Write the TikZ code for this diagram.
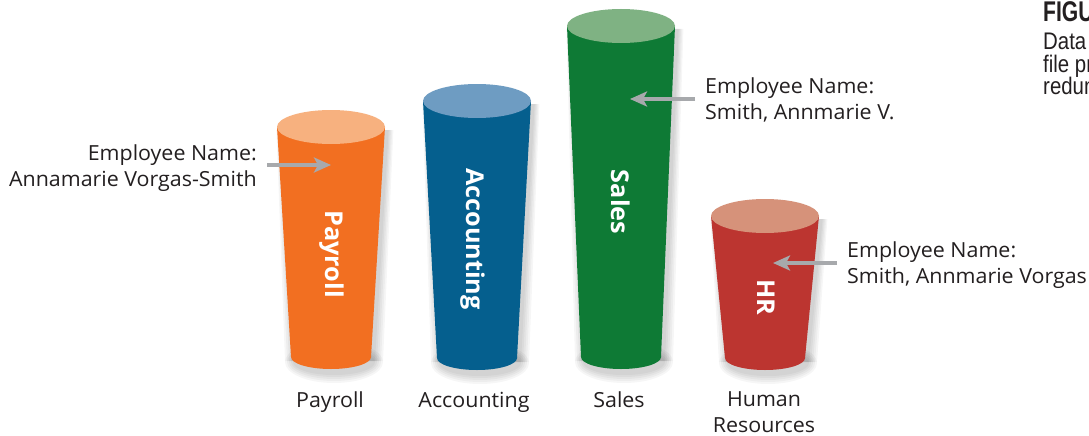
\documentclass[tikz,border=0pt]{standalone}
\usepackage{fontspec}
\setmainfont[FakeStretch=1.03]{Open Sans}
\newfontfamily\capfont[FakeStretch=0.85]{Liberation Sans}
\newfontfamily\capboldfont[FakeStretch=0.74]{Liberation Sans Bold}
\usetikzlibrary{arrows.meta}

\definecolor{txt}{HTML}{231F20}
\definecolor{arrowgray}{HTML}{A7A9AC}
\definecolor{payBody}{HTML}{F26F21}
\definecolor{payTop}{HTML}{F7B17F}
\definecolor{accBody}{HTML}{055F8E}
\definecolor{accTop}{HTML}{6E9CC2}
\definecolor{salBody}{HTML}{0E7A35}
\definecolor{salTop}{HTML}{7FB283}
\definecolor{hrBody}{HTML}{BC3530}
\definecolor{hrTop}{HTML}{D6927A}

\tikzset{
  label/.style={font=\fontsize{20.8}{25.5}\selectfont, text=txt, inner sep=0pt},
  binlabel/.style={font=\fontsize{24.5}{28}\selectfont\bfseries, text=white,
    inner sep=0pt, rotate=-90},
  pointer/.style={draw=arrowgray, line width=3.4pt,
    -{Stealth[length=17pt,width=15pt,inset=4pt]}},
  caphead/.style={anchor=base west, inner sep=0pt, text=txt,
    font=\capboldfont\fontsize{28.5}{30}\selectfont},
  capline/.style={anchor=base west, inner sep=0pt, text=txt,
    font=\capfont\fontsize{24}{26}\selectfont},
}

% cylinder: #1 centre x, #2 top y, #3 bottom y, #4 body colour, #5 lid colour
\newcommand\bincyl[5]{%
  % soft shadow below and to the right
  \foreach \g in {9,7,5,3,1}{
    \fill[black, opacity=0.035]
      (#1-54+3-\g*0.4,#2+3) -- (#1-40+3-\g,#3+4) -- (#1+40+3+\g,#3+4)
      -- (#1+54+3+\g*0.6,#2+3) -- cycle;
    \fill[black, opacity=0.035]
      (#1+3,#3+5) ellipse[x radius=40pt+\g pt, y radius=12pt+\g pt];
  }
  \fill[#4] (#1-54,#2) -- (#1-40,#3) -- (#1+40,#3) -- (#1+54,#2) -- cycle;
  \fill[#4] (#1,#3) ellipse[x radius=40pt, y radius=12pt];
  \fill[#5] (#1,#2) ellipse[x radius=54pt, y radius=17pt];
}

\begin{document}
\begin{tikzpicture}[x=1pt, y=-1pt]
  \useasboundingbox (0,0) rectangle (1089,436);
  \clip (0,0) rectangle (1089,436);
  \fill[white] (0,0) rectangle (1089,436);

  % the four department files
  \bincyl{331}{127}{357}{payBody}{payTop}
  \bincyl{477}{101}{358}{accBody}{accTop}
  \bincyl{621}{26}{357}{salBody}{salTop}
  \bincyl{765}{216}{358}{hrBody}{hrTop}

  \node[binlabel] (payText) at (332,254) {Payroll};
  \node[binlabel] (accText) at (473,239) {Accounting};
  \node[binlabel] (salText) at (621,202) {Sales};
  \node[binlabel] (hrText)  at (766,297) {HR};

  % names under the files
  \node[label, anchor=base] (payName) at (330,407) {Payroll};
  \node[label, anchor=base] (accName) at (474,407) {Accounting};
  \node[label, anchor=base] (salName) at (619,407) {Sales};
  \node[label, anchor=north, align=center] (hrName) at (764,391.5) {Human\\Resources};

  % employee records
  \node[label, anchor=north east, align=right] (recPay) at (257,144.5)
    {Employee Name:\\Annamarie Vorgas-Smith};
  \node[label, anchor=north west, align=left] (recSal) at (705,77.5)
    {Employee Name:\\Smith, Annmarie V.};
  \node[label, anchor=north west, align=left] (recHR) at (847,241.5)
    {Employee Name:\\Smith, Annmarie Vorgas};

  \coordinate (payIn) at (331,165);
  \coordinate (salIn) at (630,99);
  \coordinate (hrIn)  at (773,263);
  \coordinate (payOut) at (267,165);
  \coordinate (salOut) at (695,99);
  \coordinate (hrOut)  at (837,263);

  \draw[pointer] (payOut) -- (payIn);
  \draw[pointer] (salOut) -- (salIn);
  \draw[pointer] (hrOut) -- (hrIn);

  % figure caption at the edge
  \node[caphead] (figHead) at (1043,22) {FIGU};
  \node[capline] (figL1) at (1043,50) {Data r};
  \node[capline] (figL2) at (1043,72) {file pr};
  \node[capline] (figL3) at (1043,94) {redun};
\end{tikzpicture}
\end{document}
